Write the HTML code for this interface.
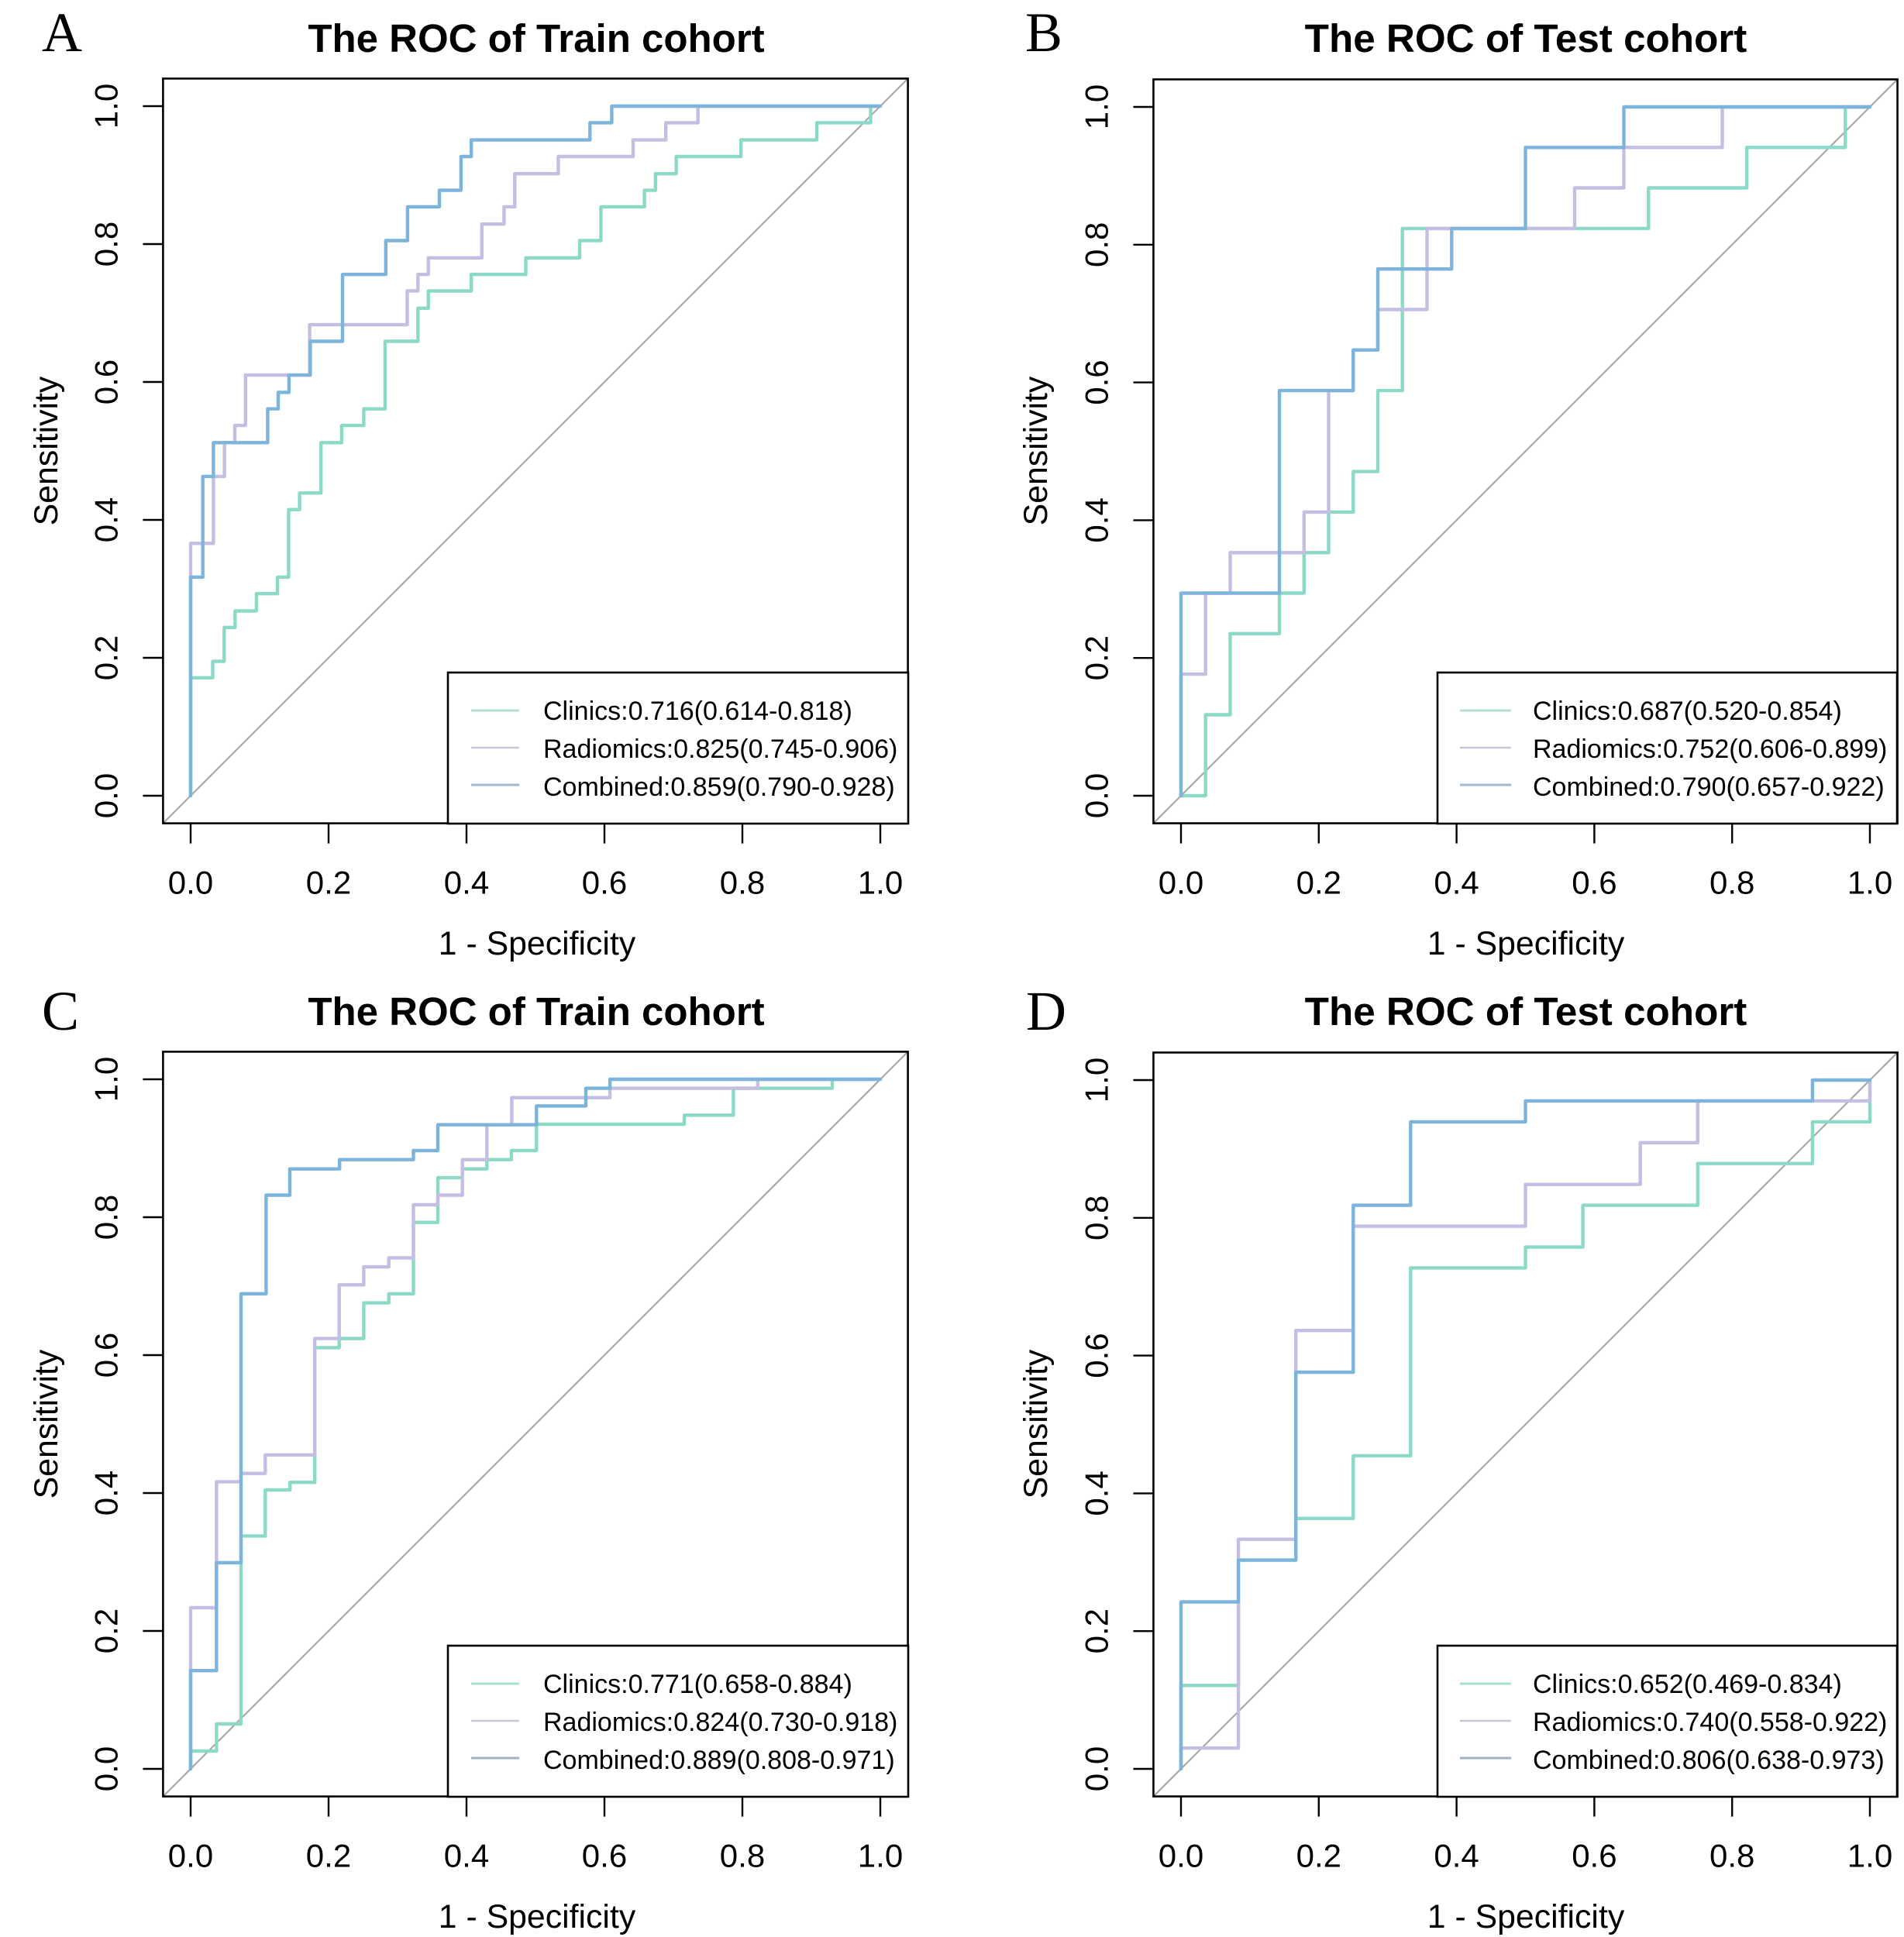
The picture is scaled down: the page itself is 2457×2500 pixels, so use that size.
<!DOCTYPE html>
<html lang="en">
<head>
<meta charset="utf-8">
<title>ROC curves of Train and Test cohorts</title>
<style>
html,body{margin:0;padding:0;background:#fff;width:2457px;height:2500px;overflow:hidden}
svg{position:absolute;left:0;top:0;display:block}
text{font-family:"Liberation Sans",Arial,sans-serif;fill:#000}
.title{font-size:51px;font-weight:700;text-anchor:middle}
.test-title{font-size:51.2px;font-weight:700;text-anchor:middle}
.letter{font-family:"Liberation Serif","Times New Roman",serif;font-size:72px}
.axis-title{font-size:42.8px;text-anchor:middle}
.tick{font-size:42px;text-anchor:middle}
.leg{font-size:34px}
.frame{fill:none;stroke:#000;stroke-width:2.6}
.legbox{fill:#fff;stroke:#000;stroke-width:2.6}
</style>
</head>
<body>
<svg id="chart" xmlns="http://www.w3.org/2000/svg" width="2457" height="2500" viewBox="0 0 2457 2500">
  <rect width="2457" height="2500" fill="#fff"/>

  <text class="letter" x="54" y="66">A</text>
  <text class="title" x="692" y="67">The ROC of Train cohort</text>
  <text class="axis-title" x="693" y="1232">1 - Specificity</text>
  <text class="axis-title" transform="translate(74 582) rotate(-90)">Sensitivity</text>

  <text class="letter" x="1323" y="66">B</text>
  <text class="test-title" x="1969" y="67">The ROC of Test cohort</text>
  <text class="axis-title" x="1969" y="1232">1 - Specificity</text>
  <text class="axis-title" transform="translate(1351 582) rotate(-90)">Sensitivity</text>

  <text class="letter" x="54" y="1329">C</text>
  <text class="title" x="692" y="1323">The ROC of Train cohort</text>
  <text class="axis-title" x="693" y="2488">1 - Specificity</text>
  <text class="axis-title" transform="translate(74 1838) rotate(-90)">Sensitivity</text>

  <text class="letter" x="1324" y="1329">D</text>
  <text class="test-title" x="1969" y="1323">The ROC of Test cohort</text>
  <text class="axis-title" x="1969" y="2488">1 - Specificity</text>
  <text class="axis-title" transform="translate(1351 1838) rotate(-90)">Sensitivity</text>

  <g id="marks"></g>

  <g>
    <rect class="legbox" x="578" y="868" width="594" height="195"/>
    <line x1="608" x2="670" y1="917" y2="917" stroke="#b4dcd4" stroke-width="3"/>
    <line x1="608" x2="670" y1="965" y2="965" stroke="#c6c5d8" stroke-width="2.4"/>
    <line x1="608" x2="670" y1="1013" y2="1013" stroke="#9fb9d0" stroke-width="3"/>
    <text class="leg" x="701" y="929">Clinics:0.716(0.614-0.818)</text>
    <text class="leg" x="701" y="978">Radiomics:0.825(0.745-0.906)</text>
    <text class="leg" x="701" y="1027">Combined:0.859(0.790-0.928)</text>
  </g>

  <g>
    <rect class="legbox" x="1855" y="868" width="593" height="195"/>
    <line x1="1884" x2="1950" y1="917" y2="917" stroke="#b4dcd4" stroke-width="3"/>
    <line x1="1884" x2="1950" y1="965" y2="965" stroke="#c6c5d8" stroke-width="2.4"/>
    <line x1="1884" x2="1950" y1="1013" y2="1013" stroke="#9fb9d0" stroke-width="3"/>
    <text class="leg" x="1978" y="929">Clinics:0.687(0.520-0.854)</text>
    <text class="leg" x="1978" y="978">Radiomics:0.752(0.606-0.899)</text>
    <text class="leg" x="1978" y="1027">Combined:0.790(0.657-0.922)</text>
  </g>

  <g>
    <rect class="legbox" x="578" y="2124" width="594" height="195"/>
    <line x1="608" x2="670" y1="2173" y2="2173" stroke="#a5e0d2" stroke-width="3"/>
    <line x1="608" x2="670" y1="2221" y2="2221" stroke="#c6c5d8" stroke-width="2.4"/>
    <line x1="608" x2="670" y1="2269" y2="2269" stroke="#9fb2c4" stroke-width="3"/>
    <text class="leg" x="701" y="2185">Clinics:0.771(0.658-0.884)</text>
    <text class="leg" x="701" y="2234">Radiomics:0.824(0.730-0.918)</text>
    <text class="leg" x="701" y="2283">Combined:0.889(0.808-0.971)</text>
  </g>

  <g>
    <rect class="legbox" x="1855" y="2124" width="593" height="195"/>
    <line x1="1884" x2="1950" y1="2173" y2="2173" stroke="#a5e0d2" stroke-width="3"/>
    <line x1="1884" x2="1950" y1="2221" y2="2221" stroke="#c6c5d8" stroke-width="2.4"/>
    <line x1="1884" x2="1950" y1="2269" y2="2269" stroke="#9fb2c4" stroke-width="3"/>
    <text class="leg" x="1978" y="2185">Clinics:0.652(0.469-0.834)</text>
    <text class="leg" x="1978" y="2234">Radiomics:0.740(0.558-0.922)</text>
    <text class="leg" x="1978" y="2283">Combined:0.806(0.638-0.973)</text>
  </g>
</svg>

<script>
// Tick values shared by both axes
const tickValues = [0, 0.2, 0.4, 0.6, 0.8, 1];
const tickLabels = ["0.0", "0.2", "0.4", "0.6", "0.8", "1.0"];
const seriesNames = ["clinics", "radiomics", "combined"];

// Panel A: each fpr value is where the curve rises to the matching tpr value
const aClinicsFpr = [0,.032,.0486,.0644,.0954,.126,.142,.158,.189,.219,.251,.282,.3295,.3446,.407,.486,.564,.595,.658,.674,.704,.798,.908,.986,1];
const aClinicsTpr = [.171,.195,.244,.268,.293,.317,.415,.439,.512,.537,.561,.659,.707,.732,.756,.78,.805,.854,.878,.902,.927,.951,.976,1,1];
const aRadiomicsFpr = [0,.033,.049,.064,.0795,.1726,.314,.3295,.3446,.4223,.4544,.47,.533,.6416,.689,.7356,1];
const aRadiomicsTpr = [.366,.463,.512,.537,.61,.683,.732,.756,.78,.829,.854,.902,.927,.951,.976,1,1];
const aCombinedFpr = [0,.0176,.033,.1117,.127,.1426,.1735,.2202,.2829,.3145,.3607,.392,.407,.579,.6106,1];
const aCombinedTpr = [.317,.463,.512,.561,.585,.61,.659,.756,.805,.854,.878,.927,.951,.976,1,1];

// Panel B
const bClinicsFpr = [.0357,.0714,.1429,.1786,.2143,.25,.2857,.3214,.6786,.8214,.9643,1];
const bClinicsTpr = [.1176,.2353,.2941,.3529,.4118,.4706,.5882,.8235,.8824,.9412,1,1];
const bRadiomicsFpr = [0,.0357,.0714,.1786,.2143,.25,.2857,.3571,.5714,.6429,.7857,1];
const bRadiomicsTpr = [.1765,.2941,.3529,.4118,.5882,.6471,.7059,.8235,.8824,.9412,1,1];
const bCombinedFpr = [0,.1429,.25,.2857,.3929,.5,.6429,1];
const bCombinedTpr = [.2941,.5882,.6471,.7647,.8235,.9412,1,1];

// Panel C
const cClinicsFpr = [0,.0375,.073,.1082,.1442,.18,.2154,.251,.2873,.323,.3584,.394,.4296,.465,.5015,.7157,.787,.9303,1];
const cClinicsTpr = [.0258,.0652,.3378,.4045,.4155,.6108,.624,.6757,.689,.7925,.8573,.87,.8835,.8966,.9348,.948,.987,1,1];
const cRadiomicsFpr = [0,.0375,.073,.1082,.18,.2154,.251,.2873,.323,.3584,.394,.4296,.4656,.608,.8224,1];
const cRadiomicsTpr = [.2337,.4164,.4284,.4553,.624,.7019,.728,.741,.818,.832,.8835,.934,.9734,.987,1,1];
const cCombinedFpr = [0,.0375,.073,.1094,.1438,.216,.323,.3584,.5015,.573,.608,1];
const cCombinedTpr = [.1425,.299,.689,.832,.87,.8835,.8966,.934,.9614,.987,1,1];

// Panel D
const dClinicsFpr = [0,.0833,.1667,.25,.3333,.5,.5833,.75,.9167,1];
const dClinicsTpr = [.1212,.303,.3636,.4545,.7273,.7576,.8182,.8788,.9394,1];
const dRadiomicsFpr = [0,.0833,.1667,.25,.5,.6667,.75,1];
const dRadiomicsTpr = [.0303,.3333,.6364,.7879,.8485,.9091,.9697,1];
const dCombinedFpr = [0,.0833,.1667,.25,.3333,.5,.9167,1];
const dCombinedTpr = [.2424,.303,.5758,.8182,.9394,.9697,1,1];

const seriesColors = { clinics: "#8dd9c8", radiomics: "#c3bee2", combined: "#7db4dc" };
const SVG_NS = "http://www.w3.org/2000/svg";
const marks = document.getElementById("marks");

function make(tag, attrs, parent) {
  const el = document.createElementNS(SVG_NS, tag);
  for (const key in attrs) el.setAttribute(key, attrs[key]);
  parent.appendChild(el);
  return el;
}

function drawPanel(id, originX, originY, span, curves) {
  const xScale = v => originX + v * span;
  const yScale = v => originY - v * span;
  const lo = -0.04, hi = 1.04;

  const group = make("g", {}, marks);
  
  

  const diagonal = make("line", {
    x1: xScale(lo), y1: yScale(lo), x2: xScale(hi), y2: yScale(hi),
    stroke: "#a8a8a8", "stroke-width": 2.2
  }, group);
  
  

  seriesNames.forEach(function (name, i) {
    const fpr = curves[i][0], tpr = curves[i][1];
    let d = "M" + xScale(0) + " " + yScale(0);
    fpr.forEach(function (f, k) {
      d += "H" + xScale(f).toFixed(1) + "V" + yScale(tpr[k]).toFixed(1);
    });
    const curve = make("path", {
      d: d, fill: "none", stroke: seriesColors[name],
      "stroke-width": 4.4, "stroke-linejoin": "round", "stroke-linecap": "round"
    }, group);
    
    
  });

  const frame = make("rect", {
    class: "frame", x: xScale(lo), y: yScale(hi),
    width: xScale(hi) - xScale(lo), height: yScale(lo) - yScale(hi)
  }, group);
  
  

  const boxBottom = yScale(lo), boxLeft = xScale(lo);
  tickValues.forEach(function (v, i) {
    const xTick = make("line", {
      x1: xScale(v), x2: xScale(v), y1: boxBottom, y2: boxBottom + 26,
      stroke: "#000", "stroke-width": 2.4
    }, group);
    
    

    const xLabel = make("text", { class: "tick", x: xScale(v), y: boxBottom + 91 }, group);
    xLabel.textContent = tickLabels[i];
    
    

    const yTick = make("line", {
      x1: boxLeft - 26, x2: boxLeft, y1: yScale(v), y2: yScale(v),
      stroke: "#000", "stroke-width": 2.4
    }, group);
    
    

    const yLabel = make("text", {
      class: "tick",
      transform: "translate(" + (boxLeft - 59) + " " + yScale(v) + ") rotate(-90)"
    }, group);
    yLabel.textContent = tickLabels[i];
    
    
  });
}

drawPanel("a", 246, 1027, 890, [[aClinicsFpr, aClinicsTpr], [aRadiomicsFpr, aRadiomicsTpr], [aCombinedFpr, aCombinedTpr]]);
drawPanel("b", 1524, 1027, 889, [[bClinicsFpr, bClinicsTpr], [bRadiomicsFpr, bRadiomicsTpr], [bCombinedFpr, bCombinedTpr]]);
drawPanel("c", 246, 2283, 890, [[cClinicsFpr, cClinicsTpr], [cRadiomicsFpr, cRadiomicsTpr], [cCombinedFpr, cCombinedTpr]]);
drawPanel("d", 1524, 2283, 889, [[dClinicsFpr, dClinicsTpr], [dRadiomicsFpr, dRadiomicsTpr], [dCombinedFpr, dCombinedTpr]]);
</script>
</body>
</html>
